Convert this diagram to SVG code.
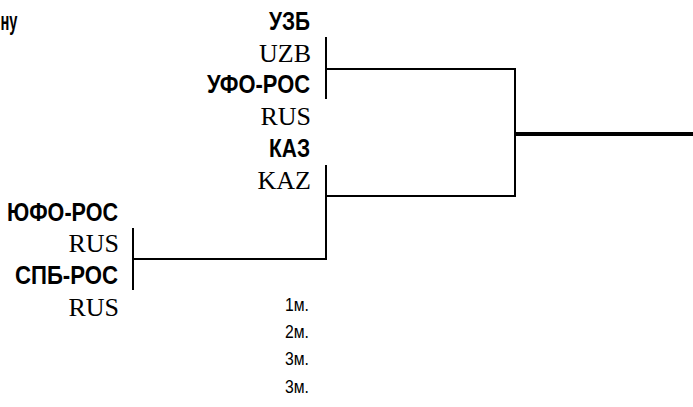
<svg xmlns="http://www.w3.org/2000/svg" width="693" height="407" viewBox="0 0 693 407">
<style>
.b{font-family:"Liberation Sans",Arial,sans-serif;font-weight:bold;font-size:25px;fill:#000}
.s{font-family:"Liberation Serif","Times New Roman",serif;font-size:26px;fill:#000;text-anchor:end}
.p{font-family:"Liberation Sans",Arial,sans-serif;font-size:18px;fill:#000}
.ln{stroke:#000;stroke-width:2;fill:none}
.thick{stroke:#000;stroke-width:4;fill:none}
</style>
<rect width="693" height="407" fill="#fff"/>
<g id="header"><text class="b" x="0.5" y="30" textLength="17" lengthAdjust="spacingAndGlyphs">ну</text></g>
<g id="team-uzb">
<text class="b" x="269" y="30" textLength="41" lengthAdjust="spacingAndGlyphs">УЗБ</text>
<text class="s" x="311" y="62">UZB</text>
</g>
<g id="team-ufo">
<text class="b" x="207" y="93" textLength="103" lengthAdjust="spacingAndGlyphs">УФО-РОС</text>
<text class="s" x="311" y="125">RUS</text>
</g>
<g id="team-kaz">
<text class="b" x="269" y="157" textLength="41" lengthAdjust="spacingAndGlyphs">КАЗ</text>
<text class="s" x="311" y="189">KAZ</text>
</g>
<g id="team-yufo">
<text class="b" x="7" y="221" textLength="111" lengthAdjust="spacingAndGlyphs">ЮФО-РОС</text>
<text class="s" x="119" y="252">RUS</text>
</g>
<g id="team-spb">
<text class="b" x="15" y="284" textLength="103" lengthAdjust="spacingAndGlyphs">СПБ-РОС</text>
<text class="s" x="119" y="316">RUS</text>
</g>
<g id="places">
<text class="p" x="285" y="311" textLength="24" lengthAdjust="spacingAndGlyphs">1м.</text>
<text class="p" x="285" y="338" textLength="24" lengthAdjust="spacingAndGlyphs">2м.</text>
<text class="p" x="285" y="365" textLength="24" lengthAdjust="spacingAndGlyphs">3м.</text>
<text class="p" x="285" y="393" textLength="24" lengthAdjust="spacingAndGlyphs">3м.</text>
</g>
<g id="connectors">
<path class="ln" d="M133 228V290M133 259H326"/>
<path class="ln" d="M326 37V99M326 69H515"/>
<path class="ln" d="M326 165V260M326 196H515"/>
<path class="ln" d="M515 68V197"/>
<path class="thick" d="M514 134H693"/>
</g>
</svg>
